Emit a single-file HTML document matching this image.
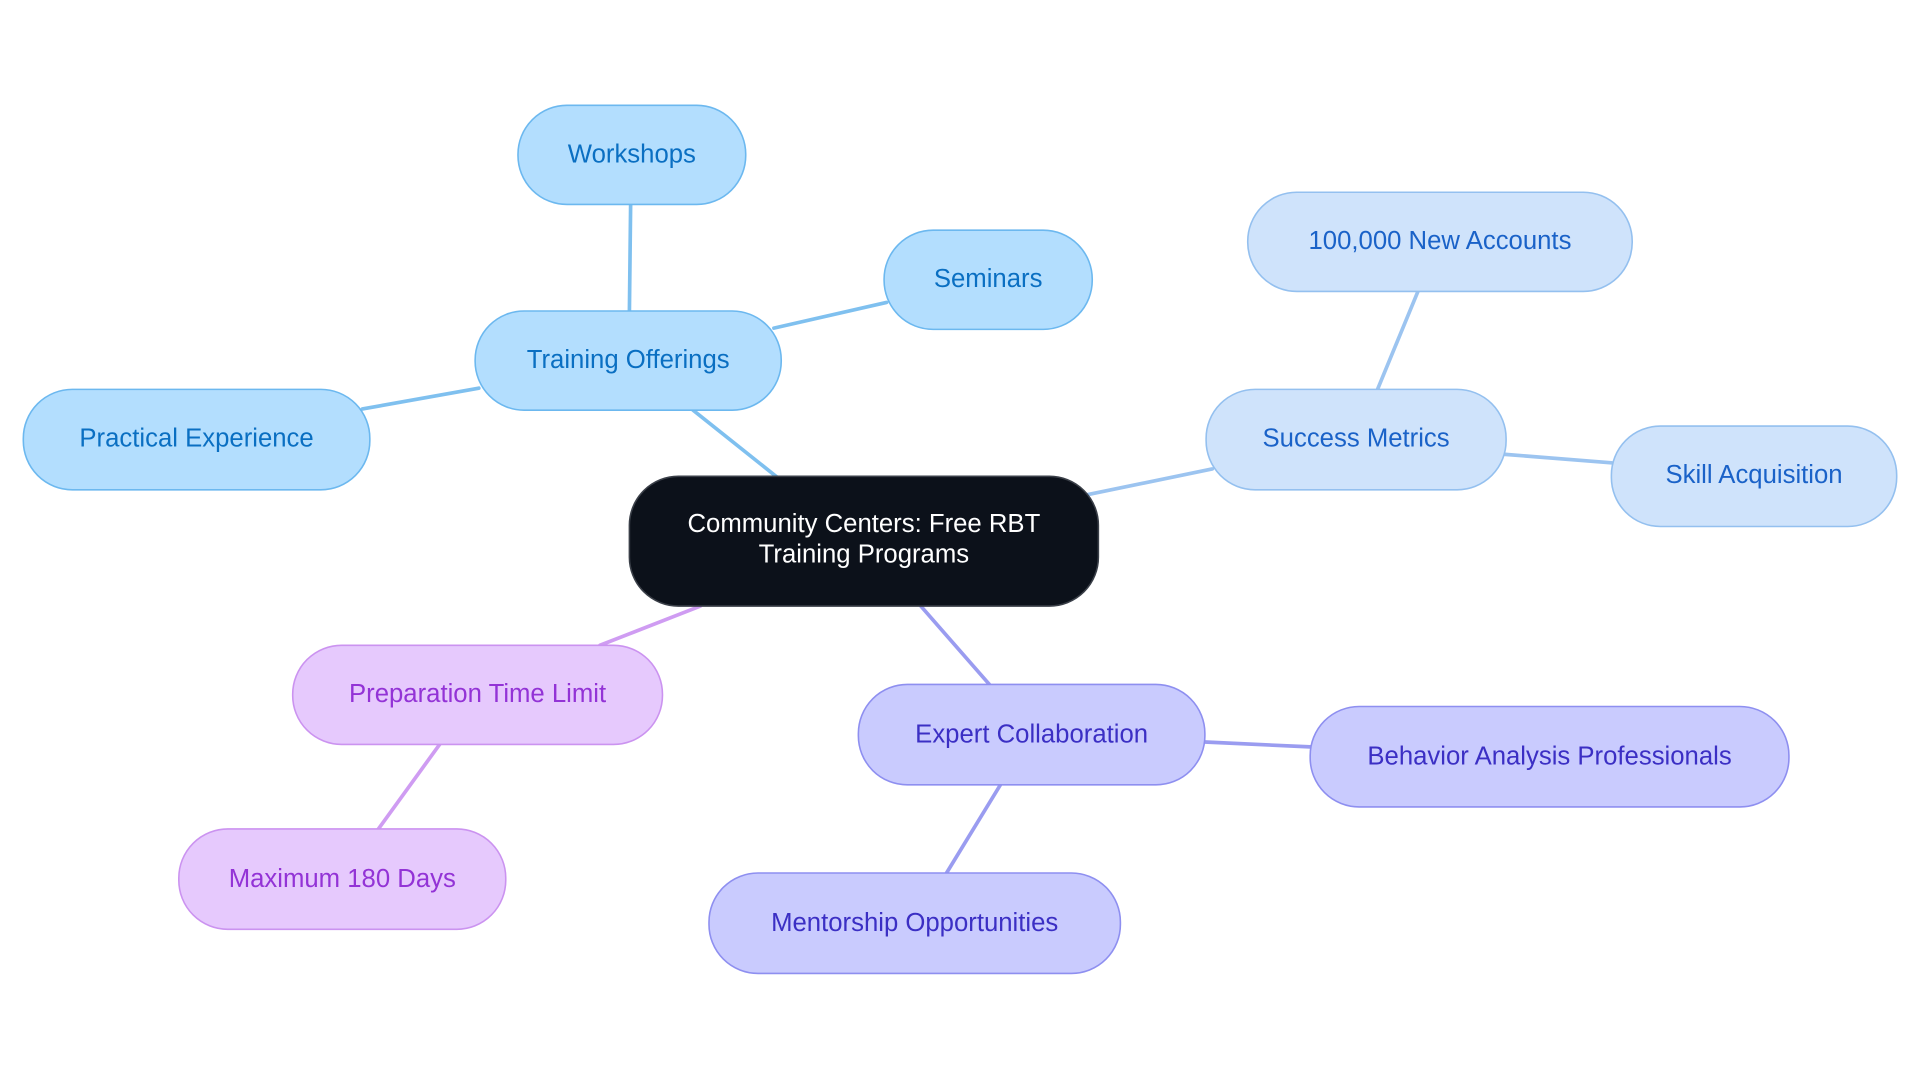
<!DOCTYPE html>
<html><head><meta charset="utf-8"><style>
html,body{margin:0;padding:0;background:#fff;}
svg{display:block;}
text{font-family:"Liberation Sans",sans-serif;font-size:21px;text-anchor:middle;dominant-baseline:central;}
</style></head><body>
<svg width="1920" height="1083" viewBox="0 0 1568 884.5" xmlns="http://www.w3.org/2000/svg">
<g stroke-width="3" fill="none" stroke-linecap="round">
<line x1="635" y1="390" x2="566" y2="335" stroke="#7fc0ef"/>
<line x1="514" y1="254" x2="515" y2="167" stroke="#7fc0ef"/>
<line x1="632" y1="268" x2="724" y2="247" stroke="#7fc0ef"/>
<line x1="391" y1="317" x2="296" y2="334" stroke="#7fc0ef"/>
<line x1="888" y1="404" x2="990" y2="383" stroke="#9cc4f0"/>
<line x1="1125" y1="318" x2="1158" y2="238" stroke="#9cc4f0"/>
<line x1="1228" y1="371" x2="1316" y2="378" stroke="#9cc4f0"/>
<line x1="572" y1="495" x2="490" y2="527" stroke="#cf9cf2"/>
<line x1="359" y1="608" x2="309" y2="677" stroke="#cf9cf2"/>
<line x1="752" y1="495" x2="808" y2="559" stroke="#9a9cf0"/>
<line x1="984" y1="606" x2="1070" y2="610" stroke="#9a9cf0"/>
<line x1="817" y1="641" x2="773" y2="713" stroke="#9a9cf0"/>
</g>
<g stroke-width="1.3">
<rect x="514" y="389" width="383" height="106" rx="40" fill="#0c111a" stroke="#3a3f48"/>
<g fill="#b3defe" stroke="#6cb8ef">
<rect x="423" y="86" width="186" height="81" rx="40"/>
<rect x="722" y="188" width="170" height="81" rx="40"/>
<rect x="388" y="254" width="250" height="81" rx="40"/>
<rect x="19" y="318" width="283" height="82" rx="40"/>
</g>
<g fill="#cfe3fb" stroke="#94c0ef">
<rect x="1019" y="157" width="314" height="81" rx="40"/>
<rect x="985" y="318" width="245" height="82" rx="40"/>
<rect x="1316" y="348" width="233" height="82" rx="40"/>
</g>
<g fill="#e6c9fd" stroke="#cb93f0">
<rect x="239" y="527" width="302" height="81" rx="40"/>
<rect x="146" y="677" width="267" height="82" rx="40"/>
</g>
<g fill="#c9cbfe" stroke="#8e8ff0">
<rect x="701" y="559" width="283" height="82" rx="40"/>
<rect x="1070" y="577" width="391" height="82" rx="40"/>
<rect x="579" y="713" width="336" height="82" rx="40"/>
</g>
</g>
<text x="705.5" y="428" fill="#fff">Community Centers: Free RBT</text>
<text x="705.5" y="453" fill="#fff">Training Programs</text>
<g fill="#0a6fc2">
<text x="516" y="126">Workshops</text>
<text x="807" y="228">Seminars</text>
<text x="513" y="294">Training Offerings</text>
<text x="160.5" y="358">Practical Experience</text>
</g>
<g fill="#1a62c8">
<text x="1176" y="197">100,000 New Accounts</text>
<text x="1107.5" y="358">Success Metrics</text>
<text x="1432.5" y="388">Skill Acquisition</text>
</g>
<g fill="#9333d6">
<text x="390" y="567">Preparation Time Limit</text>
<text x="279.5" y="718">Maximum 180 Days</text>
</g>
<g fill="#3b2fc4">
<text x="842.5" y="600">Expert Collaboration</text>
<text x="1265.5" y="618">Behavior Analysis Professionals</text>
<text x="747" y="754">Mentorship Opportunities</text>
</g>
</svg>
</body></html>
